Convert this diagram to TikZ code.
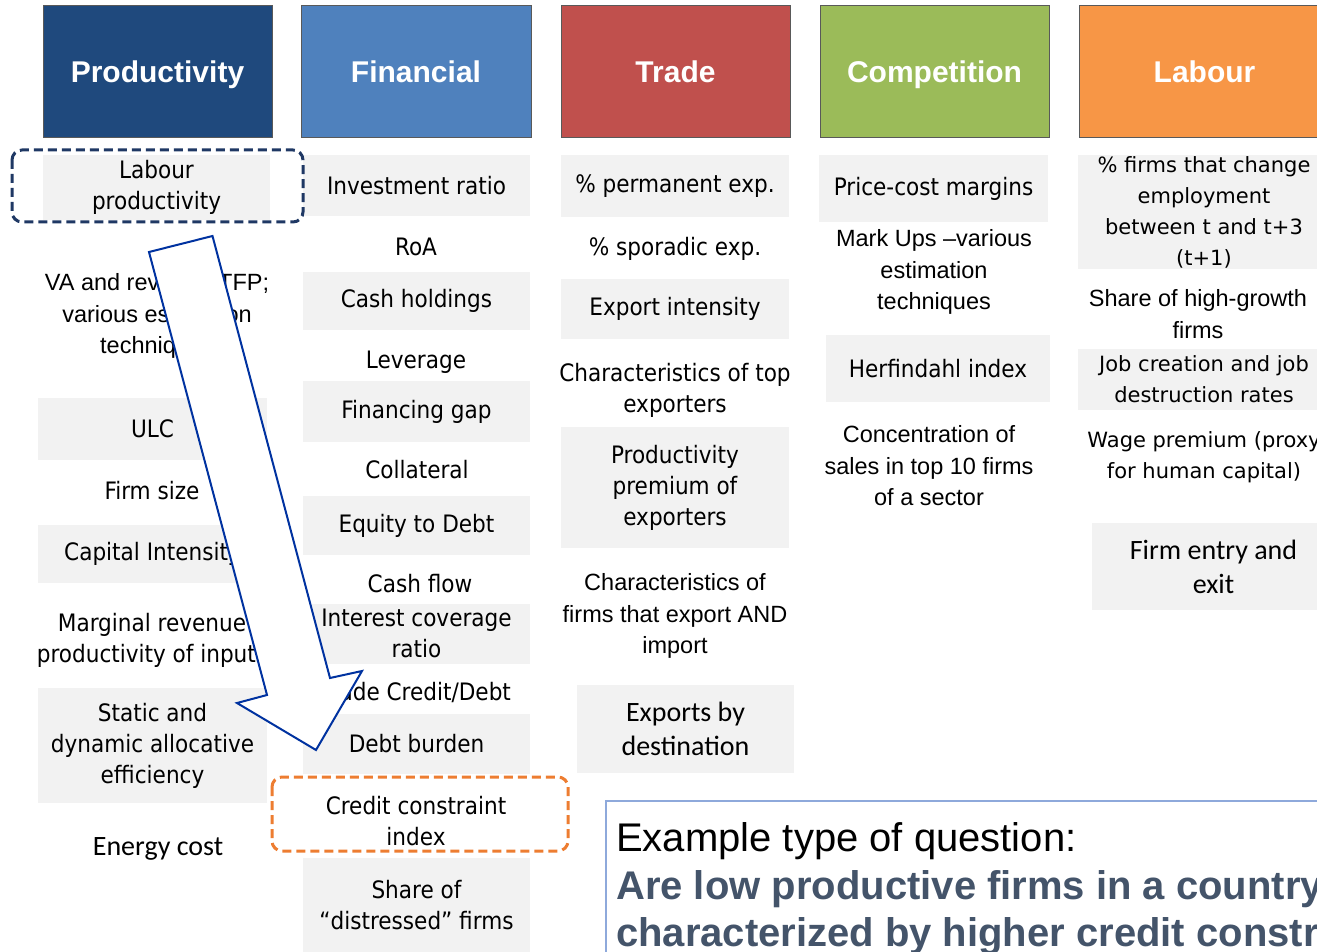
\documentclass[tikz,border=0pt]{standalone}
\usepackage{fontspec}
\setmainfont{Liberation Sans}
\newfontfamily\tahoma{DejaVu Sans Condensed}
\newfontfamily\verdana{DejaVu Sans}
\newfontfamily\calib{Carlito}
\usepackage{tikz}

\definecolor{prodblue}{RGB}{31,73,125}
\definecolor{finblue}{RGB}{79,129,189}
\definecolor{tradered}{RGB}{192,80,77}
\definecolor{compgreen}{RGB}{155,187,89}
\definecolor{labourorange}{RGB}{247,150,70}
\definecolor{cellgray}{RGB}{242,242,242}
\definecolor{navydash}{RGB}{31,56,100}
\definecolor{orangedash}{RGB}{237,125,49}
\definecolor{arrowblue}{RGB}{0,50,160}
\definecolor{qslate}{RGB}{68,84,106}
\definecolor{qframe}{RGB}{142,169,219}

\begin{document}
\begin{tikzpicture}[x=1pt, y=-1pt,
      hdr/.style={draw=black!65, line width=1pt, minimum height=132pt, text height=21.5pt, text depth=0pt, text=white, font=\bfseries\fontsize{30}{36}\selectfont},
      gbox/.style={fill=cellgray, inner sep=0pt, minimum width=227pt},
      tx/.style={align=center, inner sep=0pt, font=\tahoma\fontsize{24}{31}\selectfont},
      ar/.style={align=center, inner sep=0pt, font=\fontsize{23.5}{31.5}\selectfont},
      vd/.style={align=center, inner sep=0pt, font=\verdana\fontsize{21}{31}\selectfont},
      cb/.style={align=center, inner sep=0pt, font=\calib\fontsize{28}{34}\selectfont},
      pick/.style={dash pattern=on 9pt off 5pt, line width=3pt, rounded corners=10pt},
      bigarrow/.style={fill=white, draw=arrowblue, line width=2pt, line join=miter}]
      \useasboundingbox (0,0) rectangle (1317,952);
      \clip (0,0) rectangle (1317,952);
      % headers
      \node[hdr, fill=prodblue, minimum width=229pt] (hprod) at (157.5,72) {Productivity};
      \node[hdr, fill=finblue, minimum width=230pt] (hfin) at (416,72) {Financial};
      \node[hdr, fill=tradered, minimum width=229pt] (htrade) at (675.5,72) {Trade};
      \node[hdr, fill=compgreen, minimum width=229pt] (hcomp) at (934.5,72) {Competition};
      \node[hdr, fill=labourorange, minimum width=251pt] (hlab) at (1204.5,72) {Labour};
      % productivity
      \node[gbox, tx, minimum height=65pt] (lp) at (156.5,187.5) {Labour\\productivity};
      \node[ar] (va) at (157,316) {VA and revenue TFP;\\various estimation\\techniques};
      \node[gbox, tx, minimum width=229pt, minimum height=62pt] (ulc) at (152.5,429) {ULC};
      \node[tx] (fs) at (152,491) {Firm size};
      \node[gbox, tx, minimum width=229pt, minimum height=58pt] (ci) at (152.5,554) {Capital Intensity};
      \node[tx] (mr) at (152,640) {Marginal revenue\\productivity of inputs};
      \node[gbox, tx, minimum width=229pt, minimum height=115pt] (sd) at (152.5,745.5) {Static and\\dynamic allocative\\efficiency};
      \node[cb] (ec) at (158,849) {Energy cost};
      % financial
      \node[gbox, tx, minimum height=61pt] (ir) at (416.5,185.5) {Investment ratio};
      \node[tx] (roa) at (416,247) {RoA};
      \node[gbox, tx, minimum height=58pt] (ch) at (416.5,301) {Cash holdings};
      \node[tx] (lev) at (416,362) {Leverage};
      \node[gbox, tx, minimum height=61pt] (fg) at (416.5,411.5) {Financing gap};
      \node[tx] (coll) at (417,470) {Collateral};
      \node[gbox, tx, minimum height=59pt] (etd) at (416.5,525.5) {Equity to Debt};
      \node[tx] (cf) at (420,584) {Cash flow};
      \node[gbox, tx, minimum height=60pt] (icr) at (416.5,633.5) {Interest coverage\\ratio};
      \node[tx] (tcd) at (416,692) {Trade Credit/Debt};
      \node[gbox, tx, minimum height=60pt] (db) at (416.5,744) {Debt burden};
      \node[tx] (cc) at (416,821) {Credit constraint\\index};
      \node[gbox, tx, minimum height=95pt] (sdf) at (416.5,905.5) {Share of\\“distressed” firms};
      % trade
      \node[gbox, tx, minimum width=228pt, minimum height=62pt] (pe) at (675,186) {\% permanent exp.};
      \node[tx] (se) at (675,249) {\% sporadic exp.};
      \node[gbox, tx, minimum width=228pt, minimum height=60pt] (ei) at (675,309) {Export intensity};
      \node[tx] (cte) at (675,390) {Characteristics of top\\exporters};
      \node[gbox, tx, minimum width=228pt, minimum height=121pt] (ppe) at (675,487.5) {Productivity\\premium of\\exporters};
      \node[ar] (cfe) at (675,616) {Characteristics of\\firms that export AND\\import};
      \node[gbox, cb, minimum width=217pt, minimum height=88pt] (ebd) at (685.5,729) {Exports by\\destination};
      % competition
      \node[gbox, tx, minimum width=229pt, minimum height=67pt] (pcm) at (933.5,188.5) {Price-cost margins};
      \node[ar] (mu) at (934,272) {Mark Ups –various\\estimation\\techniques};
      \node[gbox, tx, minimum width=224pt, minimum height=67pt] (hi) at (938,368.5) {Herfindahl index};
      \node[ar] (cs) at (929,466) {Concentration of\\sales in top 10 firms\\of a sector};
      % labour
      \node[gbox, vd, minimum width=252pt, minimum height=114pt] (fc) at (1204,212) {\% firms that change\\employment\\between t and t+3\\(t+1)};
      \node[ar] (hg) at (1198,314) {Share of high-growth\\firms};
      \node[gbox, vd, minimum width=252pt, minimum height=61pt] (jc) at (1204,379.5) {Job creation and job\\destruction rates};
      \node[vd] (wp) at (1204,457) {Wage premium (proxy\\for human capital)};
      \node[gbox, cb, minimum width=243pt, minimum height=87pt] (fe) at (1213.5,566.5) {Firm entry and\\exit};
      % highlighted pair and the arrow between them
      \draw[pick, draw=navydash] (12,150) rectangle (303,222);
      \draw[pick, draw=orangedash] (272,777) rectangle (568,851);
      \draw[bigarrow] (149,252) -- (212.5,236) -- (330,678) -- (362,671) -- (316,750) -- (237,703) -- (267,695) -- cycle;
      % question box
      \draw[qframe, line width=2pt] (606,801) rectangle (1340,975);
      \node[anchor=base west, inner sep=0pt, font=\fontsize{40}{48}\selectfont] (qlead) at (616,851) {Example type of question:};
      \node[anchor=base west, inner sep=0pt, text=qslate, font=\bfseries\fontsize{40}{48}\selectfont] (qline1) at (616,899) {Are low productive firms in a country};
      \node[anchor=base west, inner sep=0pt, text=qslate, font=\bfseries\fontsize{40}{48}\selectfont] (qline2) at (616,946) {characterized by higher credit constraints?};
    \end{tikzpicture}
\end{document}
